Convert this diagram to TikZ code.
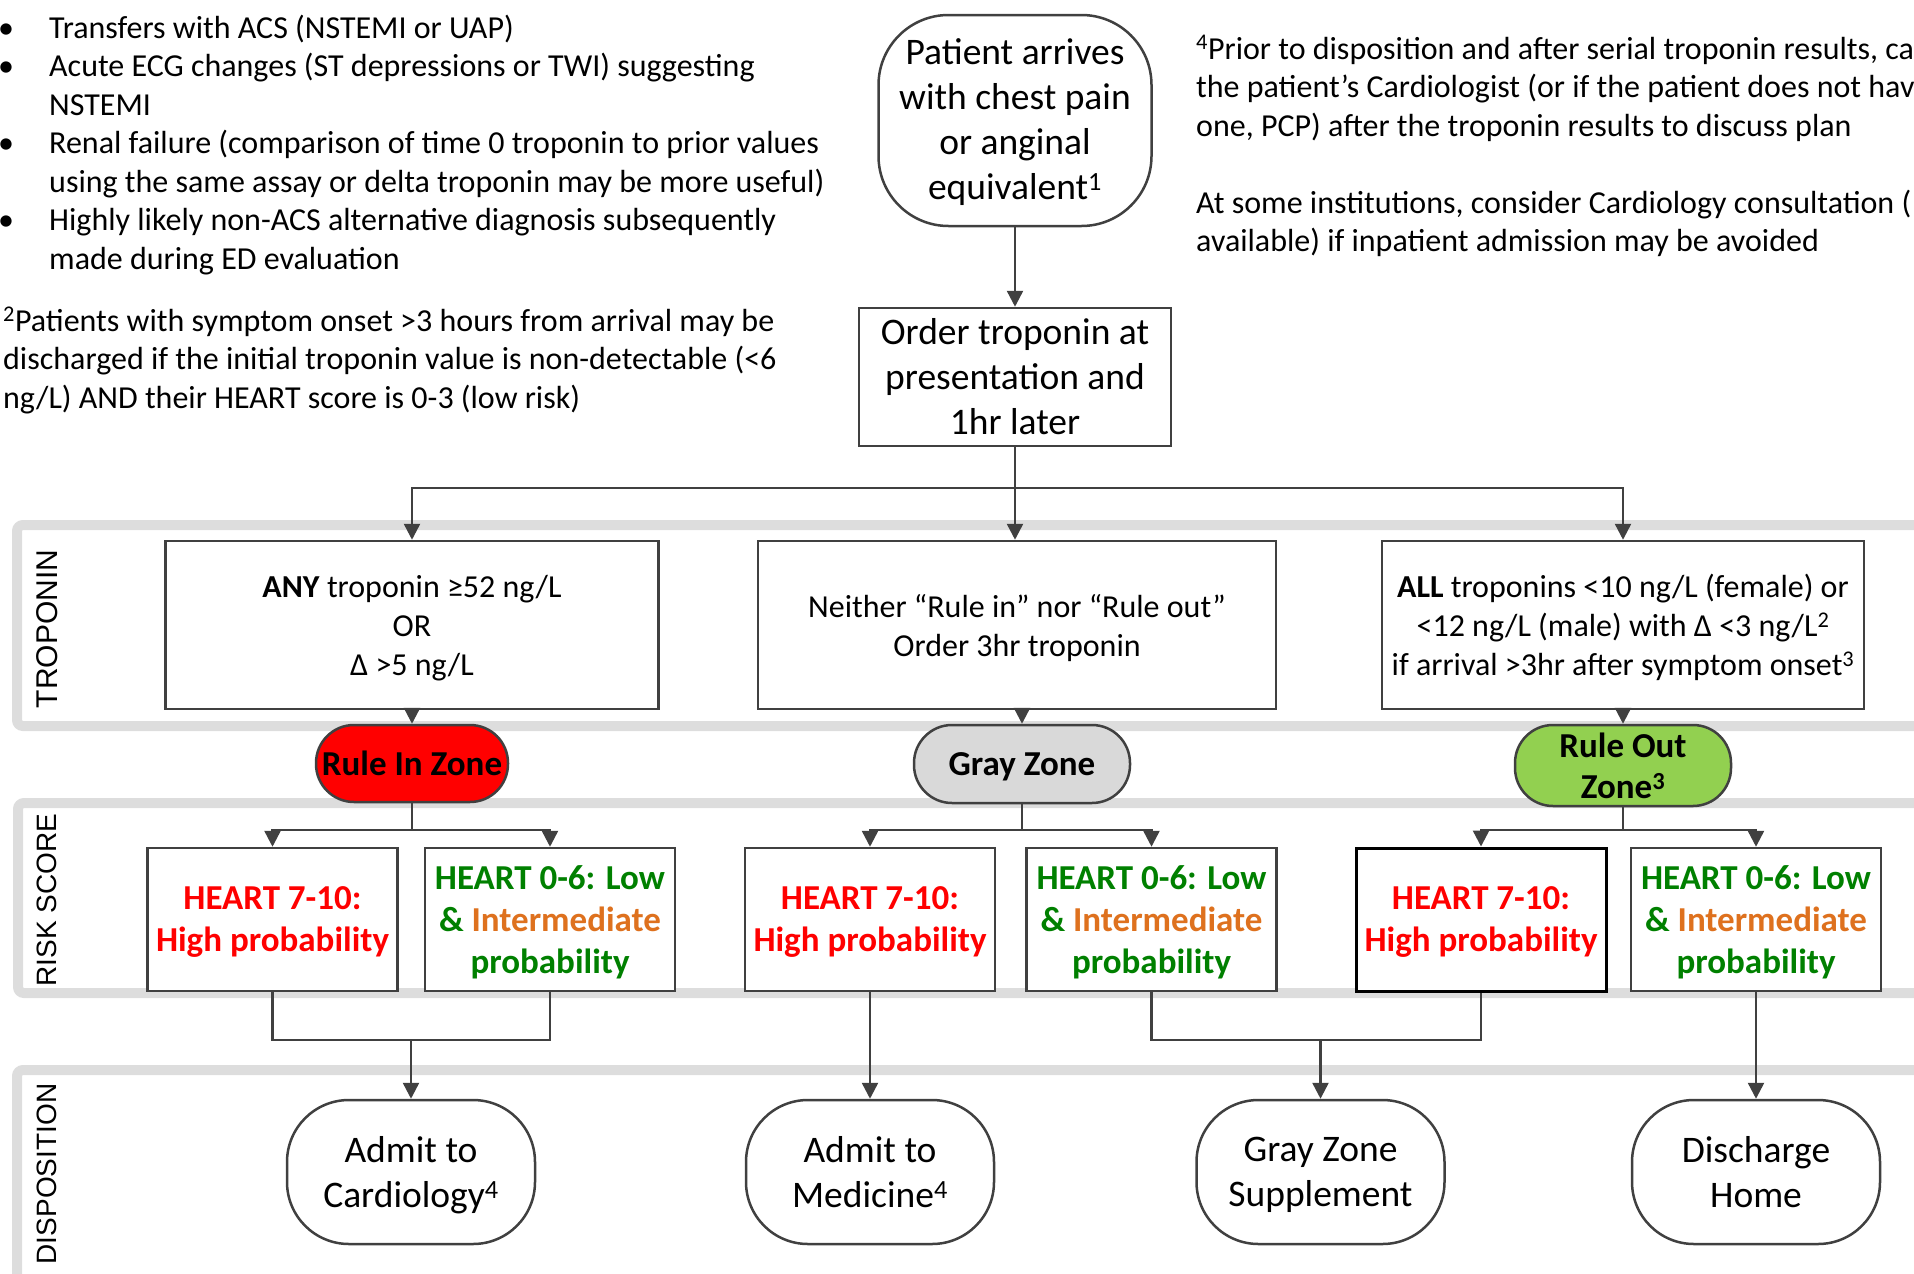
\documentclass[tikz,border=0pt]{standalone}
\usepackage{fontspec}
\setmainfont{Carlito}
\newfontfamily\lanefont{Liberation Sans}
\usetikzlibrary{arrows.meta}
\definecolor{edge}{RGB}{64,64,64}
\definecolor{lanegray}{RGB}{221,221,221}
\definecolor{zonered}{RGB}{255,0,0}
\definecolor{zonegray}{RGB}{217,217,217}
\definecolor{zonegreen}{RGB}{146,208,80}
\definecolor{txtred}{RGB}{255,0,0}
\definecolor{txtgreen}{RGB}{0,128,0}
\definecolor{txtorange}{RGB}{222,113,30}
\newcommand{\highprob}{\textcolor{txtred}{HEART 7-10:}\\\textcolor{txtred}{High probability}}
\newcommand{\lowprob}{\textcolor{txtgreen}{HEART 0-6: Low}\\\textcolor{txtgreen}{\&} \textcolor{txtorange}{Intermediate}\\\textcolor{txtgreen}{probability}}

\begin{document}
\begin{tikzpicture}[x=1pt, y=-1pt,
	lane/.style={draw=lanegray, line width=10pt, rounded corners=6pt},
	lanelabel/.style={rotate=90, font=\lanefont\fontsize{28}{30}\selectfont},
	box/.style={draw=edge, line width=2.5pt, fill=white, align=center, inner sep=0pt},
	term/.style={box, rounded corners=70pt},
	zone/.style={box, rounded corners=38pt, text depth=0pt, font=\bfseries\fontsize{35}{41.5}\selectfont},
	heart/.style={box, minimum width=250pt, minimum height=143pt, text depth=-8pt, font=\bfseries\fontsize{35}{42}\selectfont},
	dispo/.style={box, rounded corners=62pt, minimum width=248pt, minimum height=144pt, text depth=-1pt, font=\fontsize{37.5}{45}\selectfont},
	trop/.style={box, minimum height=168pt, text depth=0pt, font=\fontsize{32}{39}\selectfont},
	note/.style={anchor=base west, align=left, inner sep=0pt},
	line/.style={draw=edge, line width=2.5pt},
	arr/.style={line, -{Triangle[width=16pt,length=16pt]}}]
	\useasboundingbox (0,0) rectangle (1914,1274);

	% swim lanes
	\draw[lane] (17,525) rectangle (1960,726);
	\draw[lane] (18,803) rectangle (1960,993);
	\draw[lane] (17,1070) rectangle (1960,1300);
	\node[lanelabel, font=\lanefont\fontsize{30}{32}\selectfont] (lbltrop) at (47,629) {TROPONIN};
	\node[lanelabel] (lblrisk) at (47,900) {RISK SCORE};
	\node[lanelabel] (lbldisp) at (47,1174) {DISPOSITION};

	% notes (base = last line)
	\node[note, font=\fontsize{32}{38.5}\selectfont] (crit) at (49,269) {Transfers with ACS (NSTEMI or UAP)\\Acute ECG changes (ST depressions or TWI) suggesting\\NSTEMI\\Renal failure (comparison of time 0 troponin to prior values\\using the same assay or delta troponin may be more useful)\\Highly likely non-ACS alternative diagnosis subsequently\\made during ED evaluation};
	\foreach \k/\n in {0/1,1/2,3/3,5/4}
		\node[anchor=base, inner sep=0pt, font=\fontsize{32}{36}\selectfont] (dot\n) at (6,38+38.5*\k) {\textbullet};
	\node[note, font=\fontsize{32}{38.5}\selectfont] (fnsymptom) at (3,408) {\textsuperscript{2}Patients with symptom onset >3 hours from arrival may be\\discharged if the initial troponin value is non-detectable (<6\\ng/L) AND their HEART score is 0-3 (low risk)};
	\node[note, font=\fontsize{32}{38.5}\selectfont] (fncall) at (1196,251.5) {\textsuperscript{4}Prior to disposition and after serial troponin results, ca\\the patient’s Cardiologist (or if the patient does not hav\\one, PCP) after the troponin results to discuss plan\\[38.5pt]At some institutions, consider Cardiology consultation (\\available) if inpatient admission may be avoided};

	% start
	\node[term, minimum width=273pt, minimum height=211pt, text depth=2pt, font=\fontsize{37.5}{45}\selectfont] (patient) at (1015,120.5) {Patient arrives\\with chest pain\\or anginal\\equivalent\textsuperscript{1}};
	\node[box, minimum width=312pt, minimum height=138pt, font=\fontsize{37.5}{45}\selectfont] (order) at (1015,377) {Order troponin at\\presentation and\\1hr later};

	% troponin lane
	\node[trop, minimum width=493pt] (tropin) at (412,625) {\textbf{ANY} troponin ≥52 ng/L\\OR\\Δ >5 ng/L};
	\node[trop, minimum width=518pt] (tropgray) at (1017,625) {Neither “Rule in” nor “Rule out”\\Order 3hr troponin};
	\node[trop, minimum width=482pt] (tropout) at (1623,625) {\textbf{ALL} troponins <10 ng/L (female) or\\<12 ng/L (male) with Δ <3 ng/L\textsuperscript{2}\\if arrival >3hr after symptom onset\textsuperscript{3}};

	% zones
	\node[zone, fill=zonered, minimum width=192pt, minimum height=77pt] (zonein) at (412,763.5) {Rule In Zone};
	\node[zone, fill=zonegray, minimum width=216pt, minimum height=78pt] (zonegr) at (1022,764) {Gray Zone};
	\node[zone, fill=zonegreen, minimum width=216pt, minimum height=81pt] (zoneout) at (1623,765.5) {Rule Out\\Zone\textsuperscript{3}};

	% risk score lane
	\node[heart] (hinhigh) at (272.5,919.5) {\highprob};
	\node[heart] (hinlow) at (550,919.5) {\lowprob};
	\node[heart] (hgrhigh) at (870,919.5) {\highprob};
	\node[heart] (hgrlow) at (1151.5,919.5) {\lowprob};
	\node[heart, draw=black, line width=3pt] (houthigh) at (1481,919.5) {\highprob};
	\node[heart] (houtlow) at (1756,919.5) {\lowprob};

	% disposition lane
	\node[dispo] (admcard) at (411,1172) {Admit to\\Cardiology\textsuperscript{4}};
	\node[dispo] (admmed) at (870,1172) {Admit to\\Medicine\textsuperscript{4}};
	\node[dispo] (grsupp) at (1320.5,1172) {Gray Zone\\Supplement};
	\node[dispo] (dischome) at (1756,1172) {Discharge\\Home};

	% connectors
	\coordinate (split) at (1015,488);
	\coordinate (inbr) at (412,830);
	\coordinate (grbr) at (1022,830);
	\coordinate (outbr) at (1623,830);
	\coordinate (cardjoin) at (411,1040);
	\coordinate (suppjoin) at (1320.5,1040);

	\draw[arr] (patient) -- (order);
	\draw[line] (order) -- (split);
	\draw[arr] (split) -| (tropin);
	\draw[arr] (split) -| (tropout);
	\draw[arr] (split) -- (split |- tropgray.north);
	\draw[arr] (tropin) -- (zonein);
	\draw[arr] (zonegr.north |- tropgray.south) -- (zonegr);
	\draw[arr] (tropout) -- (zoneout);

	\draw[line] (zonein) -- (inbr);
	\draw[arr] (inbr) -| (hinhigh);
	\draw[arr] (inbr) -| (hinlow);
	\draw[line] (zonegr) -- (grbr);
	\draw[arr] (grbr) -| (hgrhigh);
	\draw[arr] (grbr) -| (hgrlow);
	\draw[line] (zoneout) -- (outbr);
	\draw[arr] (outbr) -| (houthigh);
	\draw[arr] (outbr) -| (houtlow);

	\draw[line] (hinhigh) |- (cardjoin) -| (hinlow);
	\draw[arr] (cardjoin) -- (admcard);
	\draw[arr] (hgrhigh) -- (admmed);
	\draw[line] (hgrlow) |- (suppjoin) -| (houthigh);
	\draw[arr] (suppjoin) -- (grsupp);
	\draw[arr] (houtlow) -- (dischome);
\end{tikzpicture}
\end{document}
